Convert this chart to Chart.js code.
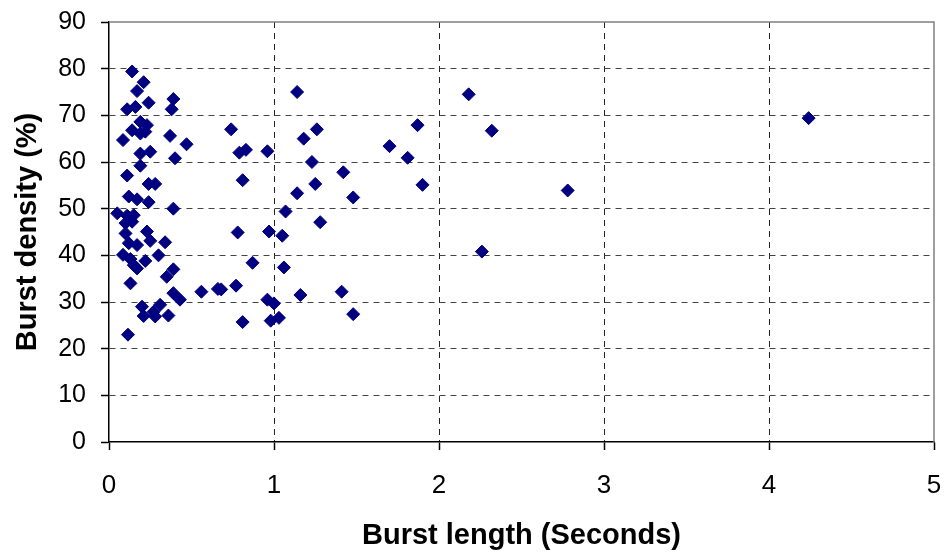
<!DOCTYPE html>
<html>
<head>
<meta charset="utf-8">
<script src="https://cdn.jsdelivr.net/npm/chart.js@4/dist/chart.umd.min.js"></script>
<style>
  html, body { margin: 0; padding: 0; background: #ffffff; }
  #wrap { width: 945px; height: 552px; position: relative; }
</style>
</head>
<body>
<div id="wrap"><canvas id="c"></canvas></div>
<script>
// Burst length (seconds) for each observed burst
const burstLength = [
  0.14, 0.21, 0.17, 0.24, 0.39, 0.38, 0.11, 0.16, 0.19, 0.23,
  0.14, 0.19, 0.22, 0.085, 0.37, 0.47, 0.19, 0.25, 0.40, 0.19,
  0.11, 0.24, 0.28, 0.12, 0.17, 0.24, 0.39, 0.05, 0.11, 0.15,
  0.14, 0.10, 0.10, 0.23, 0.25, 0.34, 0.12, 0.17, 0.085, 0.30,
  0.13, 0.22, 0.15, 0.17, 0.39, 0.35, 0.13, 0.39, 0.43, 0.56,
  0.66, 0.20, 0.31, 0.27, 0.21, 0.36, 0.28, 0.115,
  1.14, 0.74, 1.26, 1.18, 0.79, 0.83, 0.96, 1.23, 1.42, 0.81,
  1.25, 1.14, 1.48, 1.07, 1.28, 0.78, 0.97, 1.05, 0.87, 1.06,
  0.68, 0.77, 1.16, 1.41, 0.96, 1.00, 0.81, 0.98, 1.03, 1.48,
  2.18, 1.87, 2.32, 1.70, 1.81, 1.90, 2.78, 2.26, 4.24
];
// Burst density (%) for each observed burst
const burstDensity = [
  79.4, 77.1, 75.2, 72.7, 73.5, 71.3, 71.3, 71.8, 68.6, 67.9,
  66.8, 66.1, 66.5, 64.7, 65.6, 63.8, 61.8, 62.2, 60.8, 59.2,
  57.1, 55.3, 55.3, 52.6, 52.0, 51.4, 50.0, 49.0, 48.5, 48.6,
  47.2, 46.9, 44.7, 45.1, 43.1, 42.8, 42.6, 42.2, 40.1, 40.0,
  39.2, 38.8, 37.9, 37.2, 37.0, 35.4, 34.0, 31.9, 30.5, 32.2,
  32.8, 29.0, 29.4, 27.9, 27.0, 27.1, 26.9, 23.0,
  75.0, 67.0, 67.0, 65.0, 62.0, 62.6, 62.3, 60.0, 57.8, 56.1,
  55.3, 53.3, 52.4, 49.4, 47.1, 44.9, 45.1, 44.2, 38.4, 37.4,
  32.7, 33.5, 31.5, 32.2, 30.5, 29.7, 25.7, 26.0, 26.6, 27.4,
  74.5, 67.9, 66.7, 63.4, 60.9, 55.1, 53.9, 40.8, 69.4
];
const xTitle = 'Burst length (Seconds)';
const yTitle = 'Burst density (%)';
const xMin = 0, xMax = 5, xStep = 1;
const yMin = 0, yMax = 90, yStep = 10;

const points = burstLength.map((x, i) => ({ x: x, y: burstDensity[i] }));

const FONT = "'Liberation Sans', Arial, Helvetica, sans-serif";

const framePlugin = {
  id: 'frame',
  beforeDatasetsDraw(chart) {
    const { ctx, chartArea: a } = chart;
    ctx.save();
    ctx.strokeStyle = '#808080';
    ctx.lineWidth = 1.5;
    ctx.beginPath();
    ctx.moveTo(a.left, a.top);
    ctx.lineTo(a.right, a.top);
    ctx.lineTo(a.right, a.bottom);
    ctx.stroke();
    ctx.restore();
  }
};

new Chart(document.getElementById('c'), {
  type: 'scatter',
  data: {
    datasets: [{
      data: points,
      pointStyle: 'rectRot',
      pointRadius: 6.5,
      pointHoverRadius: 6.5,
      pointBackgroundColor: '#000080',
      pointBorderColor: '#000080',
      pointBorderWidth: 1
    }]
  },
  options: {
    responsive: true,
    maintainAspectRatio: false,
    animation: false,
    devicePixelRatio: 1,
    layout: { padding: { left: 0, right: 11, top: 22, bottom: 0 } },
    plugins: { legend: { display: false }, tooltip: { enabled: false } },
    scales: {
      x: {
        type: 'linear',
        min: xMin, max: xMax,
        afterFit(s) { s.height = 110; s.paddingLeft = 0; s.paddingRight = 0; },
        ticks: { stepSize: xStep, color: '#000', padding: 20, font: { family: FONT, size: 26 } },
        grid: {
          color: c => (c.tick && (c.tick.value === xMin || c.tick.value === xMax)) ? 'rgba(0,0,0,0)' : '#222',
          lineWidth: 1,
          tickColor: '#000',
          tickLength: 8,
          tickWidth: 1.5
        },
        border: { display: true, color: '#000', width: 1.5, dash: [6, 5] },
        title: { display: true, text: xTitle, color: '#000', padding: { top: 0, bottom: 0 },
                 font: { family: FONT, size: 29, weight: 'bold', lineHeight: 1.1 } }
      },
      y: {
        type: 'linear',
        min: yMin, max: yMax,
        afterFit(s) { s.width = 109; s.paddingTop = 0; s.paddingBottom = 0; },
        ticks: { stepSize: yStep, color: '#000', padding: 15, font: { family: FONT, size: 25 } },
        grid: {
          color: c => (c.tick && (c.tick.value === yMin || c.tick.value === yMax)) ? 'rgba(0,0,0,0)' : '#444',
          lineWidth: 1,
          tickColor: '#000',
          tickLength: 8,
          tickWidth: 1.5
        },
        border: { display: true, color: '#000', width: 1.5, dash: [6, 5] },
        title: { display: true, text: yTitle, color: '#000', padding: { top: 12, bottom: 0 },
                 font: { family: FONT, size: 29, weight: 'bold', lineHeight: 1.1 } }
      }
    }
  },
  plugins: [framePlugin]
});
</script>
</body>
</html>
